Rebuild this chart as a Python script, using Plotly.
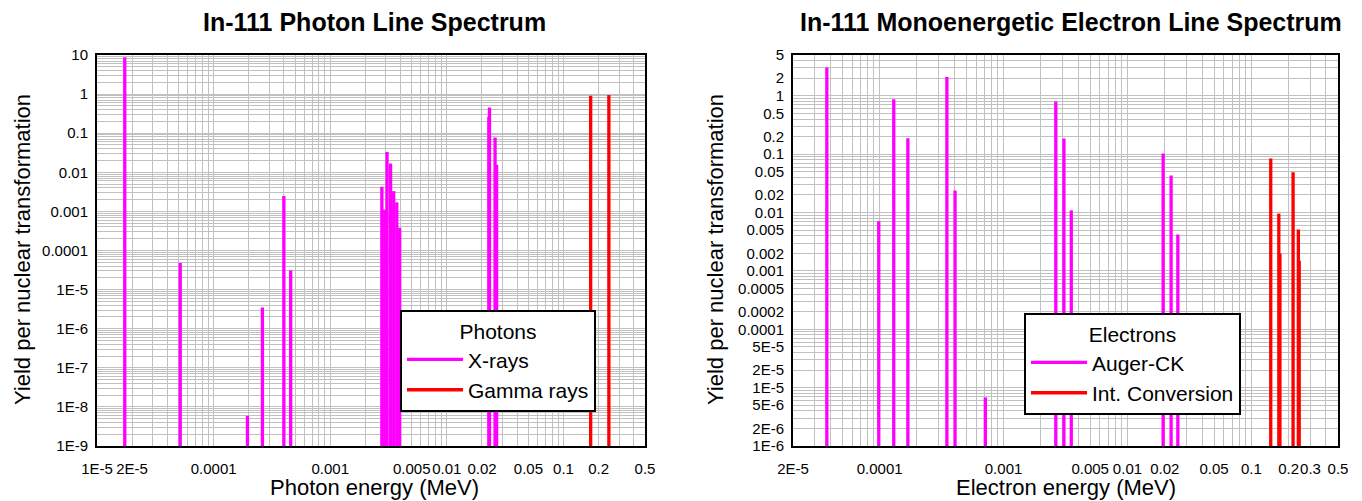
import numpy as np
import plotly.graph_objects as go

# ---------------- data ----------------
xray_energy = [1.73e-5, 5.17e-5, 1.95e-4, 2.62e-4, 4.00e-4, 4.58e-4,
               2.77e-3, 2.93e-3, 3.07e-3, 3.29e-3, 3.50e-3, 3.72e-3, 3.94e-3,
               0.0229, 0.0232, 0.0259, 0.0267]
xray_yield = [8.7, 4.8e-5, 5.9e-9, 3.5e-6, 2.47e-3, 3.1e-5,
              4.3e-3, 1.1e-3, 3.3e-2, 1.67e-2, 3.3e-3, 1.7e-3, 3.8e-4,
              0.26, 0.455, 0.078, 0.0155]
gamma_energy = [0.171, 0.245]
gamma_yield = [0.906, 0.95]

auger_energy = [3.75e-5, 9.84e-5, 1.30e-4, 1.69e-4, 3.49e-4, 4.06e-4, 7.13e-4,
                2.64e-3, 3.07e-3, 3.52e-3, 0.0194, 0.0225, 0.0255]
auger_yield = [3.04, 0.0071, 0.87, 0.188, 2.10, 0.0238, 6.8e-6,
               0.80, 0.186, 0.0109, 0.103, 0.043, 0.0042]
ic_energy = [0.1433, 0.1665, 0.1700, 0.2170, 0.2394, 0.2432]
ic_yield = [0.0843, 0.0096, 0.00198, 0.049, 0.0051, 0.0015]

photon_x_ticks = [1e-5, 2e-5, 1e-4, 1e-3, 5e-3, 1e-2, 2e-2, 5e-2, 0.1, 0.2, 0.5]
photon_x_labels = ["1E-5", "2E-5", "0.0001", "0.001", "0.005", "0.01", "0.02",
                   "0.05", "0.1", "0.2", "0.5"]
photon_y_ticks = [10, 1, 0.1, 0.01, 1e-3, 1e-4, 1e-5, 1e-6, 1e-7, 1e-8, 1e-9]
photon_y_labels = ["10", "1", "0.1", "0.01", "0.001", "0.0001", "1E-5", "1E-6",
                   "1E-7", "1E-8", "1E-9"]
electron_x_ticks = [2e-5, 1e-4, 1e-3, 5e-3, 1e-2, 2e-2, 5e-2, 0.1, 0.2, 0.3, 0.5]
electron_x_labels = ["2E-5", "0.0001", "0.001", "0.005", "0.01", "0.02", "0.05",
                     "0.1", "0.2", "0.3", "0.5"]
electron_y_ticks = [5, 2, 1, 0.5, 0.2, 0.1, 0.05, 0.02, 0.01, 0.005, 0.002, 0.001,
                    5e-4, 2e-4, 1e-4, 5e-5, 2e-5, 1e-5, 5e-6, 2e-6, 1e-6]
electron_y_labels = ["5", "2", "1", "0.5", "0.2", "0.1", "0.05", "0.02", "0.01",
                     "0.005", "0.002", "0.001", "0.0005", "0.0002", "0.0001",
                     "5E-5", "2E-5", "1E-5", "5E-6", "2E-6", "1E-6"]

photon_x_range = (1e-5, 0.5)
photon_y_range = (1e-9, 10)
electron_x_range = (2e-5, 0.5)
electron_y_range = (1e-6, 5)

# ---------------- helpers ----------------
FONT = "Arial, Liberation Sans, sans-serif"
W, H = 1362, 501
MAGENTA = "#ff00ff"
RED = "#ff0000"
GRID = "#c0c0c0"


def stems(energies, yields, base):
    xs, ys = [], []
    for e, v in zip(energies, yields):
        xs += [e, e, None]
        ys += [base, v, None]
    return xs, ys


def log_grid(lo, hi):
    vals = []
    for d in range(int(np.floor(np.log10(lo))) - 1, int(np.ceil(np.log10(hi))) + 1):
        for k in range(1, 10):
            v = k * 10.0 ** d
            if lo * (1 - 1e-9) <= v <= hi * (1 + 1e-9):
                vals.append(v)
    return vals


def px(x):
    return x / W


def py(y):
    return 1 - y / H


fig = go.Figure()

x, y = stems(xray_energy, xray_yield, photon_y_range[0])
fig.add_trace(go.Scatter(x=x, y=y, mode="lines", name="X-rays",
                         line=dict(color=MAGENTA, width=3.3),
                         xaxis="x", yaxis="y", legend="legend"))
x, y = stems(gamma_energy, gamma_yield, photon_y_range[0])
fig.add_trace(go.Scatter(x=x, y=y, mode="lines", name="Gamma rays",
                         line=dict(color=RED, width=3.3),
                         xaxis="x", yaxis="y", legend="legend"))
x, y = stems(auger_energy, auger_yield, electron_y_range[0])
fig.add_trace(go.Scatter(x=x, y=y, mode="lines", name="Auger-CK",
                         line=dict(color=MAGENTA, width=3.3),
                         xaxis="x2", yaxis="y2", legend="legend2"))
x, y = stems(ic_energy, ic_yield, electron_y_range[0])
fig.add_trace(go.Scatter(x=x, y=y, mode="lines", name="Int. Conversion",
                         line=dict(color=RED, width=3.3),
                         xaxis="x2", yaxis="y2", legend="legend2"))


def axis(domain, rng, ticks, labels, anchor, is_x):
    a = dict(
        type="log", domain=domain, automargin=False,
        range=[np.log10(rng[0]), np.log10(rng[1])],
        tickmode="array", tickvals=ticks, ticktext=labels,
        ticks="", showgrid=True, gridcolor=GRID, gridwidth=1.3,
        minor=dict(tickmode="array", tickvals=log_grid(*rng), showgrid=True,
                   gridcolor=GRID, gridwidth=1.3, ticks=""),
        showline=True, linecolor="black", linewidth=2, mirror=True,
        zeroline=False, anchor=anchor, tickangle=0,
        tickfont=dict(family=FONT, size=15, color="black"),
    )
    a["ticklabelstandoff"] = 8 if is_x else 4
    return a


L_x0, L_x1 = 97, 645
R_x0, R_x1 = 793, 1338
T_y, B_y = 55, 446


def legend_box(x0, y0, title):
    return dict(x=px(x0), y=py(y0), xanchor="left", yanchor="top",
                bgcolor="white", bordercolor="black", borderwidth=2,
                font=dict(family=FONT, size=21, color="black"),
                title=dict(text=title, side="top center",
                           font=dict(family=FONT, size=21, color="black")),
                itemwidth=56, tracegroupgap=0)


fig.update_layout(
    width=W, height=H,
    margin=dict(l=0, r=0, t=0, b=0),
    paper_bgcolor="white", plot_bgcolor="white",
    font=dict(family=FONT, color="black"),
    xaxis=axis([px(L_x0), px(L_x1)], photon_x_range, photon_x_ticks, photon_x_labels, "y", True),
    yaxis=axis([py(B_y), py(T_y)], photon_y_range, photon_y_ticks, photon_y_labels, "x", False),
    xaxis2=axis([px(R_x0), px(R_x1)], electron_x_range, electron_x_ticks, electron_x_labels, "y2", True),
    yaxis2=axis([py(B_y), py(T_y)], electron_y_range, electron_y_ticks, electron_y_labels, "x2", False),
    legend=legend_box(400, 310, "Photons"),
    legend2=legend_box(1024, 313, "Electrons"),
    showlegend=True,
)

annotations = [
    dict(text="<b>In-111 Photon Line Spectrum</b>", x=px((L_x0 + L_x1) / 2 + 3), y=py(22),
         font=dict(size=25)),
    dict(text="<b>In-111 Monoenergetic Electron Line Spectrum</b>",
         x=px((R_x0 + R_x1) / 2 + 5), y=py(22), font=dict(size=25)),
    dict(text="Photon energy (MeV)", x=px((L_x0 + L_x1) / 2 + 4), y=py(487),
         font=dict(size=22)),
    dict(text="Electron energy (MeV)", x=px((R_x0 + R_x1) / 2), y=py(487),
         font=dict(size=22)),
    dict(text="Yield per nuclear transformation", x=px(22), y=py(250),
         textangle=-90, font=dict(size=22)),
    dict(text="Yield per nuclear transformation", x=px(715), y=py(250),
         textangle=-90, font=dict(size=22)),
]
for a in annotations:
    a.update(xref="paper", yref="paper", showarrow=False,
             xanchor="center", yanchor="middle")
    a["font"].update(family=FONT, color="black")
fig.update_layout(annotations=annotations)

fig.write_html("out.html")
